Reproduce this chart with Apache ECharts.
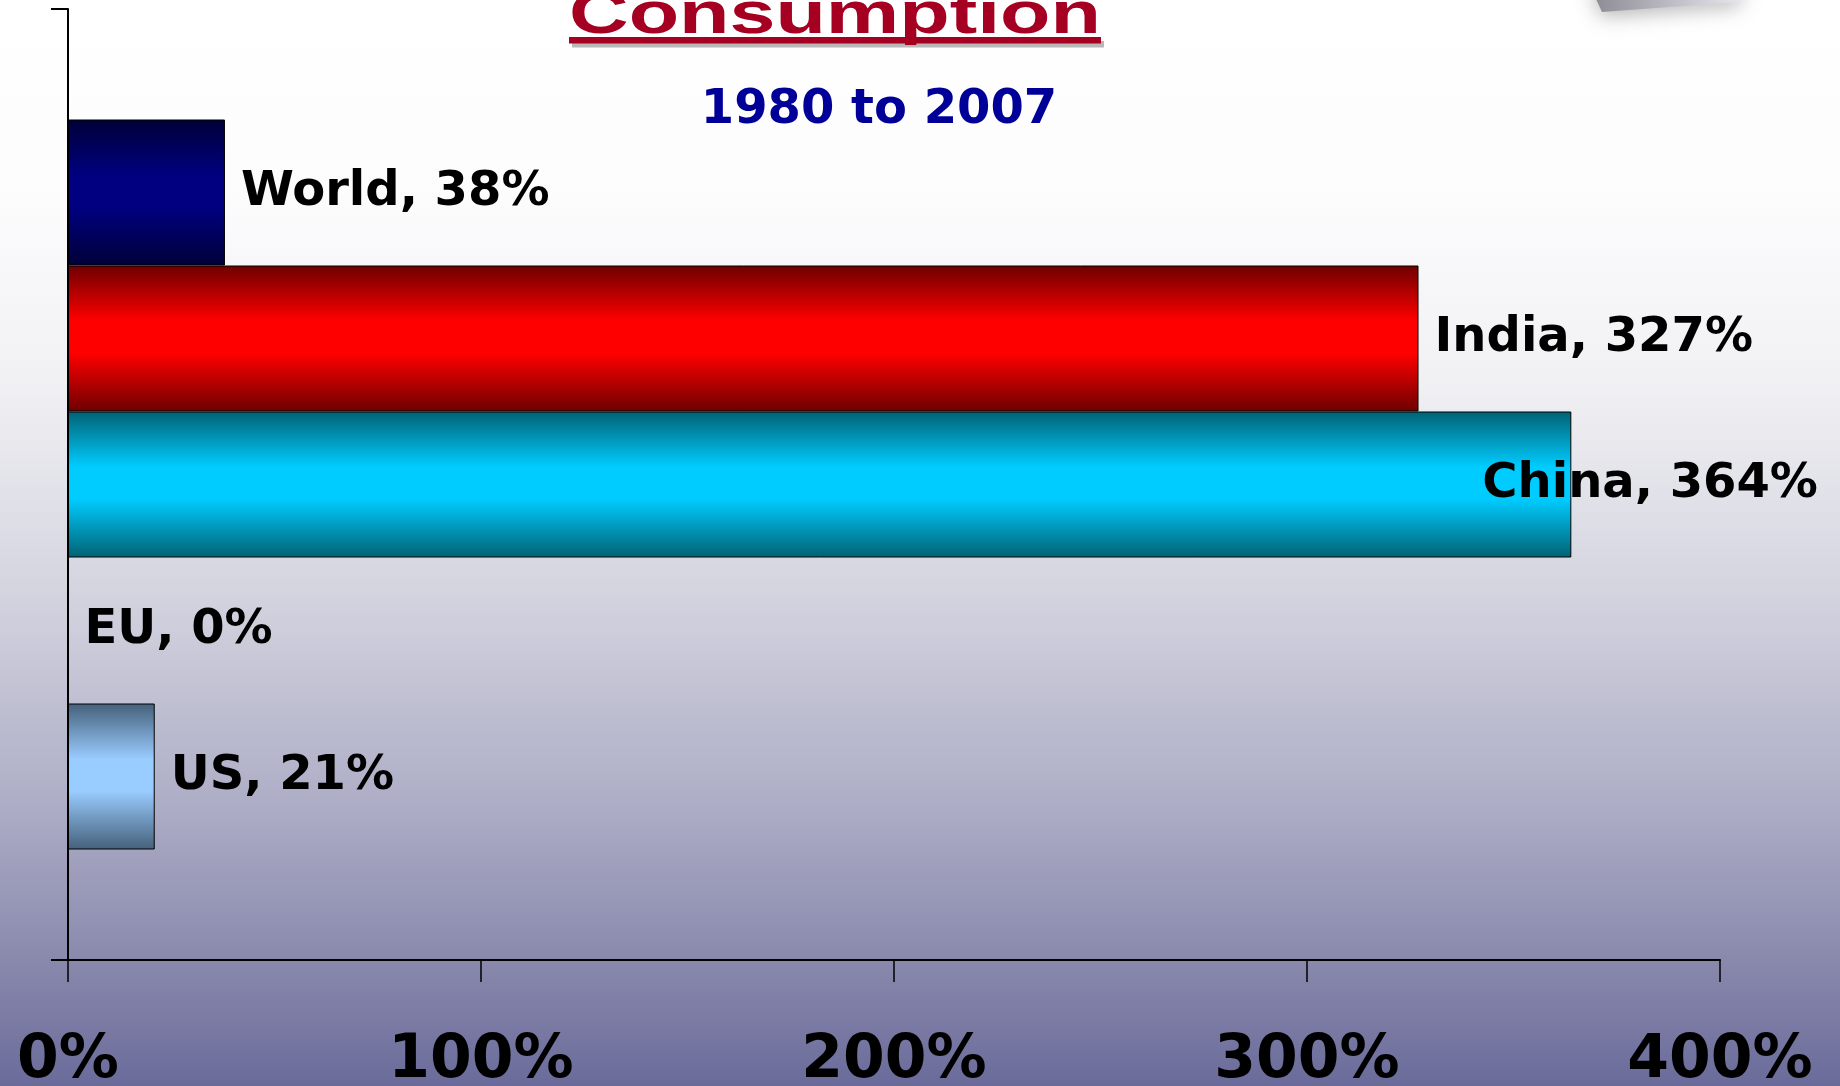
<!DOCTYPE html>
<html>
<head>
    <meta charset="UTF-8">
    <title>Consumption 1980 to 2007</title>
    <script src="https://cdn.jsdelivr.net/npm/echarts/dist/echarts.min.js"></script>
    <style>
    html, body {
      margin: 0;
      padding: 0;
      overflow: hidden;
    }
    #chart {
      width: 1840px;
      height: 1086px;
    }
  </style>
</head>
<body>
<div id="chart"></div>

<script>
    // data
    var regions   = ['World', 'India', 'China', 'EU', 'US'];
    var growthPct = [38, 327, 364, 0, 21];
    var edgeColors = ['#000038', '#6e0000', '#006274', '#45607a', '#45607a'];
    var midColors  = ['#000080', '#ff0000', '#00ccff', '#99ccff', '#99ccff'];
    var axisTicks  = [0, 100, 200, 300, 400];

    var labelFont = 'DejaVu Sans';

    var myChart = echarts.init(document.getElementById('chart'));

    var series = regions.map(function(name, i) {
      var label = {
        show: true,
        position: 'right',
        distance: 16,
        formatter: '{a}, {c}%',
        fontFamily: labelFont,
        fontWeight: 'bold',
        fontSize: 48,
        color: '#000'
      };
      // China label is pulled back so it stays inside the picture
      if (name === 'China') {
        label.distance = 0;
        label.offset = [-89, 0];
      }
      return {
        name: name,
        type: 'bar',
        barWidth: 146,
        barGap: '0%',
        data: [growthPct[i]],
        itemStyle: {
          color: new echarts.graphic.LinearGradient(0, 0, 0, 1, [
            { offset: 0, color: edgeColors[i] },
            { offset: 0.38, color: midColors[i] },
            { offset: 0.6, color: midColors[i] },
            { offset: 1, color: edgeColors[i] }
          ]),
          borderColor: '#000',
          borderWidth: 1
        },
        label: label,
        silent: true,
        animation: false
      };
    });

    var option = {
      animation: false,
      backgroundColor: new echarts.graphic.LinearGradient(0, 0, 0, 1, [
        { offset: 0, color: '#ffffff' },
        { offset: 0.18, color: '#fcfcfd' },
        { offset: 0.35, color: '#f1f1f4' },
        { offset: 0.55, color: '#d3d3df' },
        { offset: 0.75, color: '#ababc5' },
        { offset: 0.9, color: '#8585aa' },
        { offset: 1, color: '#6b6b9b' }
      ]),
      grid: {
        left: 68,
        right: 120,
        top: 9,
        bottom: 126,
        outerBoundsMode: 'none'
      },
      xAxis: {
        type: 'value',
        min: axisTicks[0],
        max: axisTicks[axisTicks.length - 1],
        interval: axisTicks[1] - axisTicks[0],
        axisLine: { show: true, lineStyle: { color: '#000', width: 2 } },
        axisTick: { show: true, length: 22, lineStyle: { color: '#000', width: 1.5 } },
        splitLine: { show: false },
        axisLabel: {
          formatter: '{value}%',
          fontFamily: labelFont,
          fontWeight: 'bold',
          fontSize: 60,
          color: '#000',
          margin: 71
        }
      },
      yAxis: {
        type: 'category',
        data: [''],
        axisLine: { show: true, lineStyle: { color: '#000', width: 2 } },
        axisTick: { show: true, length: 17, lineStyle: { color: '#000', width: 2 } },
        axisLabel: { show: false }
      },
      graphic: [
        // blurred corner of a picture at top right
        {
          type: 'polygon',
          shape: { points: [[1590, -14], [1745, -14], [1738, 2], [1602, 12]] },
          style: {
            fill: new echarts.graphic.LinearGradient(0, 0, 1, 0, [
              { offset: 0, color: '#8a8a92' },
              { offset: 1, color: '#ece8f2' }
            ]),
            shadowBlur: 20,
            shadowColor: 'rgba(0,0,0,0.3)',
            shadowOffsetY: 4
          },
          silent: true
        },
        // title underline, shadow then red
        {
          type: 'rect',
          shape: { x: 572, y: 41, width: 532, height: 6.5 },
          style: { fill: '#b8b8b8' },
          silent: true
        },
        {
          type: 'rect',
          shape: { x: 569, y: 37, width: 532, height: 6.5 },
          style: { fill: '#a50021' },
          silent: true
        },
        {
          type: 'text',
          x: 835,
          y: 16,
          scaleX: 1.376,
          style: {
            text: 'Consumption',
            x: 0,
            y: 0,
            textAlign: 'center',
            textVerticalAlign: 'middle',
            font: 'bold 60px "Liberation Sans", Arial, sans-serif',
            fill: '#a50021',
            textShadowColor: '#b4b4b4',
            textShadowOffsetX: 3,
            textShadowOffsetY: 3
          },
          silent: true
        },
        {
          type: 'text',
          x: 879,
          y: 111,
          style: {
            text: '1980 to 2007',
            x: 0,
            y: 0,
            textAlign: 'center',
            textVerticalAlign: 'middle',
            font: 'bold 48px "DejaVu Sans", Verdana, sans-serif',
            fill: '#000099',
            textShadowColor: '#b4b4b4',
            textShadowOffsetX: 3,
            textShadowOffsetY: 3
          },
          silent: true
        }
      ],
      series: series
    };
    myChart.setOption(option);
  </script>
</body>
</html>
